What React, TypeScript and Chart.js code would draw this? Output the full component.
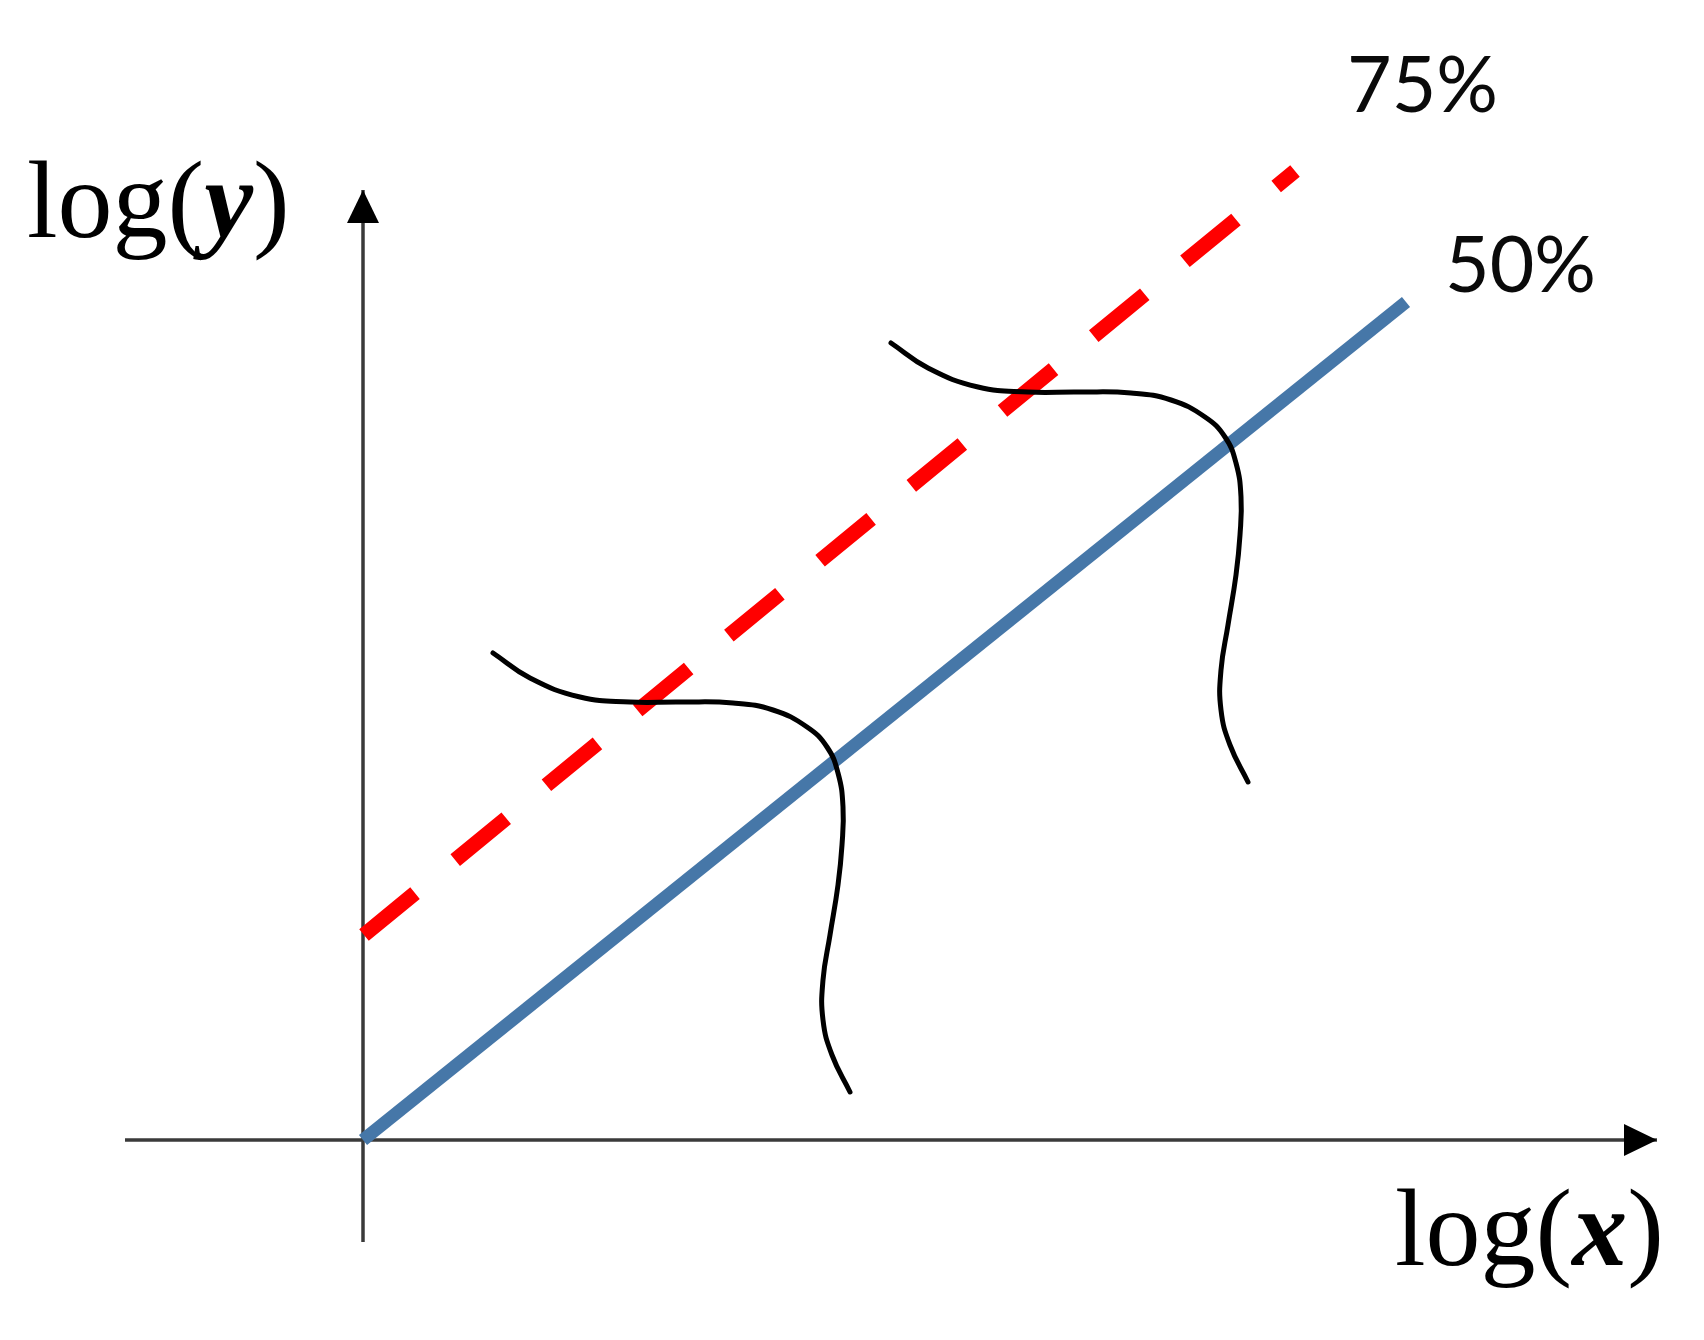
import React, { useEffect, useRef } from "react";
import { Chart, registerables } from "chart.js";

Chart.register(...registerables);

// ---- Data (abstract log-log units; origin at axes crossing) ----
const xAxisX = [-2.38, 12.94];
const xAxisY = [0, 0];
const yAxisX = [0, 0];
const yAxisY = [-1.02, 9.5];

const medianX = [0, 10.43];
const medianY = [0, 8.38];

const q75X = [0.01, 9.32];
const q75Y = [2.05, 9.69];

const dist1X = [1.3, 1.67, 2.17, 2.67, 3.17, 3.7, 4.1, 4.44, 4.64, 4.75, 4.8, 4.79, 4.75, 4.67, 4.6, 4.6, 4.69, 4.87];
const dist1Y = [4.87, 4.62, 4.43, 4.38, 4.38, 4.37, 4.3, 4.13, 3.93, 3.67, 3.33, 2.95, 2.55, 2.05, 1.6, 1.2, 0.85, 0.48];

const dist2X = [5.28, 5.65, 6.15, 6.65, 7.15, 7.68, 8.08, 8.42, 8.62, 8.73, 8.78, 8.77, 8.73, 8.65, 8.58, 8.58, 8.67, 8.85];
const dist2Y = [7.97, 7.72, 7.53, 7.48, 7.48, 7.47, 7.4, 7.23, 7.03, 6.77, 6.43, 6.05, 5.65, 5.15, 4.7, 4.3, 3.95, 3.58];

const seriesLabels = ["75%", "50%"];
const seriesLabelX = [9.84, 10.82];
const seriesLabelY = [10.28, 8.48];

const axisLabelVar = ["y", "x"];
const axisLabelX = [-3.36, 10.32];
const axisLabelY = [9.03, -1.25];

const zip = (xs: number[], ys: number[]) => xs.map((x, i) => ({ x, y: ys[i] }));

const SERIF = '"Liberation Serif", "DejaVu Serif", serif';

const annotationPlugin = {
  id: "annotations",
  afterDatasetsDraw(chart: any) {
    const { ctx, scales } = chart;
    const sx = scales.x;
    const sy = scales.y;
    ctx.save();
    const arrows = [
      { xs: xAxisX, ys: xAxisY },
      { xs: yAxisX, ys: yAxisY },
    ];
    ctx.fillStyle = "#000";
    for (const a of arrows) {
      const tx = sx.getPixelForValue(a.xs[1]);
      const ty = sy.getPixelForValue(a.ys[1]);
      const fx = sx.getPixelForValue(a.xs[0]);
      const fy = sy.getPixelForValue(a.ys[0]);
      const ang = Math.atan2(ty - fy, tx - fx);
      const len = 33;
      const half = 16;
      const bx = tx - Math.cos(ang) * len;
      const by = ty - Math.sin(ang) * len;
      ctx.beginPath();
      ctx.moveTo(tx, ty);
      ctx.lineTo(bx - Math.sin(ang) * half, by + Math.cos(ang) * half);
      ctx.lineTo(bx + Math.sin(ang) * half, by - Math.cos(ang) * half);
      ctx.closePath();
      ctx.fill();
    }
    ctx.textBaseline = "alphabetic";
    ctx.textAlign = "left";
    for (let i = 0; i < axisLabelVar.length; i++) {
      let px = sx.getPixelForValue(axisLabelX[i]);
      const py = sy.getPixelForValue(axisLabelY[i]);
      const parts = [
        { t: "log(", f: `110px ${SERIF}` },
        { t: axisLabelVar[i], f: `italic bold 110px ${SERIF}` },
        { t: ")", f: `110px ${SERIF}` },
      ];
      for (const p of parts) {
        ctx.font = p.f;
        ctx.fillText(p.t, px, py);
        px += ctx.measureText(p.t).width;
      }
    }
    ctx.font = '77px Lato, "Open Sans", sans-serif';
    ctx.fillStyle = "#0a0a0a";
    for (let i = 0; i < seriesLabels.length; i++) {
      ctx.fillText(
        seriesLabels[i],
        sx.getPixelForValue(seriesLabelX[i]),
        sy.getPixelForValue(seriesLabelY[i])
      );
    }
    ctx.restore();
  },
};

export default function App() {
  const ref = useRef<HTMLCanvasElement | null>(null);

  useEffect(() => {
    if (!ref.current) return;
    const curveStyle = {
      borderColor: "#000",
      borderWidth: 5,
      tension: 0.45,
      borderCapStyle: "round",
      borderJoinStyle: "round",
      pointRadius: 0,
      fill: false,
      order: 1,
    };
    const axisStyle = {
      borderColor: "#3a3a3a",
      borderWidth: 3.5,
      pointRadius: 0,
      fill: false,
      order: 5,
    };
    const chart = new Chart(ref.current, {
      type: "line",
      data: {
        datasets: [
          { data: zip(dist1X, dist1Y), ...curveStyle },
          { data: zip(dist2X, dist2Y), ...curveStyle },
          {
            data: zip(q75X, q75Y),
            borderColor: "#FF0000",
            borderWidth: 15,
            borderDash: [66, 52],
            borderCapStyle: "butt",
            pointRadius: 0,
            fill: false,
            order: 3,
          },
          {
            data: zip(medianX, medianY),
            borderColor: "#4677A8",
            borderWidth: 13,
            borderCapStyle: "butt",
            pointRadius: 0,
            fill: false,
            order: 4,
          },
          { data: zip(xAxisX, xAxisY), ...axisStyle },
          { data: zip(yAxisX, yAxisY), ...axisStyle },
        ],
      },
      options: {
        animation: false,
        responsive: false,
        maintainAspectRatio: false,
        devicePixelRatio: 1,
        layout: { padding: 0 },
        plugins: {
          legend: { display: false },
          tooltip: { enabled: false },
        },
        events: [],
        scales: {
          x: { type: "linear", min: -3.63, max: 13.41, display: false },
          y: { type: "linear", min: -2.0, max: 11.4, display: false },
        },
      },
      plugins: [annotationPlugin],
    } as any);
    return () => chart.destroy();
  }, []);

  return (
    <div
      style={{
        position: "absolute",
        left: 0,
        top: 0,
        width: 1704,
        height: 1340,
        background: "#fff",
      }}
    >
      <canvas ref={ref} width={1704} height={1340} style={{ display: "block" }} />
    </div>
  );
}
